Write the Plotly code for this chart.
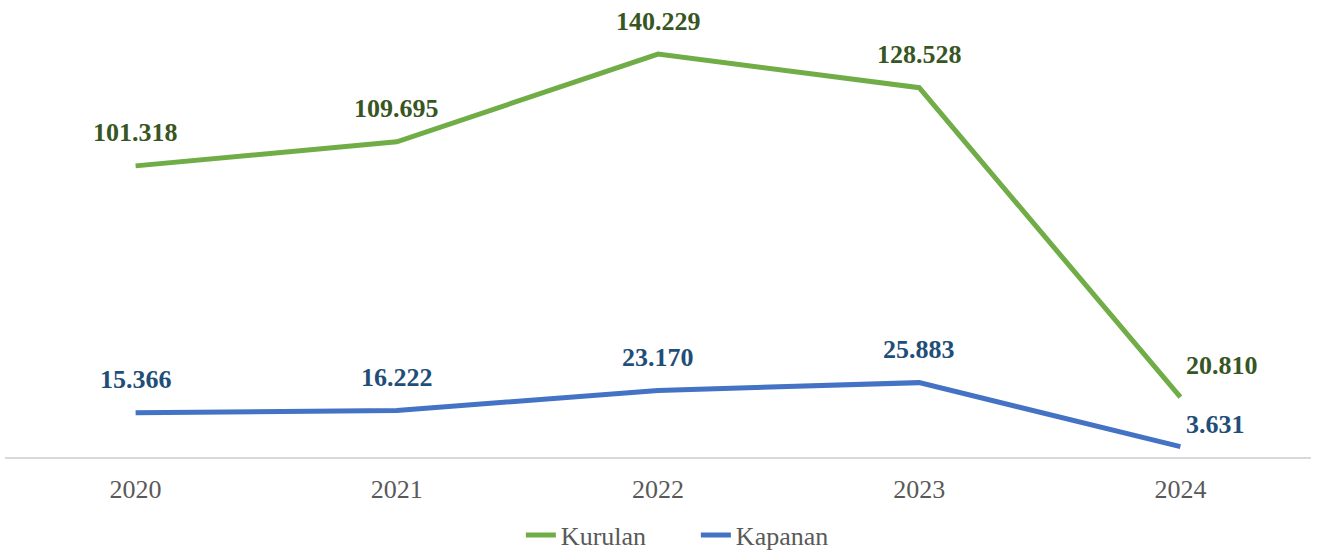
import plotly.graph_objects as go

years = ["2020", "2021", "2022", "2023", "2024"]
kurulan = [101.318, 109.695, 140.229, 128.528, 20.810]
kapanan = [15.366, 16.222, 23.170, 25.883, 3.631]
kurulan_labels = ["101.318", "109.695", "140.229", "128.528", "20.810"]
kapanan_labels = ["15.366", "16.222", "23.170", "25.883", "3.631"]

FONT = "Liberation Serif, Times New Roman, serif"
GREEN = "#70AD47"
BLUE = "#4472C4"
GREEN_TXT = "#375623"
BLUE_TXT = "#1F4E79"

fig = go.Figure()
fig.add_trace(go.Scatter(x=years, y=kurulan, mode="lines", name="Kurulan",
                         line=dict(color=GREEN, width=5)))
fig.add_trace(go.Scatter(x=years, y=kapanan, mode="lines", name="Kapanan",
                         line=dict(color=BLUE, width=5)))

annotations = []
n = len(years)
for series, labels, col, last_shift in [(kurulan, kurulan_labels, GREEN_TXT, 32),
                                        (kapanan, kapanan_labels, BLUE_TXT, 22)]:
    for i, (v, lab) in enumerate(zip(series, labels)):
        common = dict(x=i, y=v, xref="x", yref="y", text="<b>" + lab + "</b>",
                      showarrow=False, yanchor="middle",
                      font=dict(family=FONT, size=26, color=col))
        if i == n - 1:
            annotations.append(dict(common, xanchor="left", xshift=4, yshift=last_shift))
        else:
            annotations.append(dict(common, xanchor="center", yshift=33))

fig.update_layout(
    width=1327, height=554,
    margin=dict(l=5, r=16, t=26, b=97),
    paper_bgcolor="white", plot_bgcolor="white",
    font=dict(family=FONT, size=26, color="#595959"),
    xaxis=dict(type="category", range=[-0.5, 4.5], showline=True, linecolor="#D9D9D9",
               linewidth=2, showgrid=False, zeroline=False, ticks="",
               ticklabelstandoff=8,
               tickfont=dict(family=FONT, size=26, color="#595959")),
    yaxis=dict(range=[0, 150], visible=False, showgrid=False, zeroline=False),
    legend=dict(orientation="h", x=0.529, xanchor="center", xref="paper",
                y=1 - 535 / 554, yanchor="middle", yref="container",
                font=dict(family=FONT, size=26, color="#595959"), itemwidth=30,
                entrywidth=130),
    showlegend=True,
    annotations=annotations,
)

fig.write_html("out.html", config={"displayModeBar": False},
               post_script="document.body.style.margin='0';")
